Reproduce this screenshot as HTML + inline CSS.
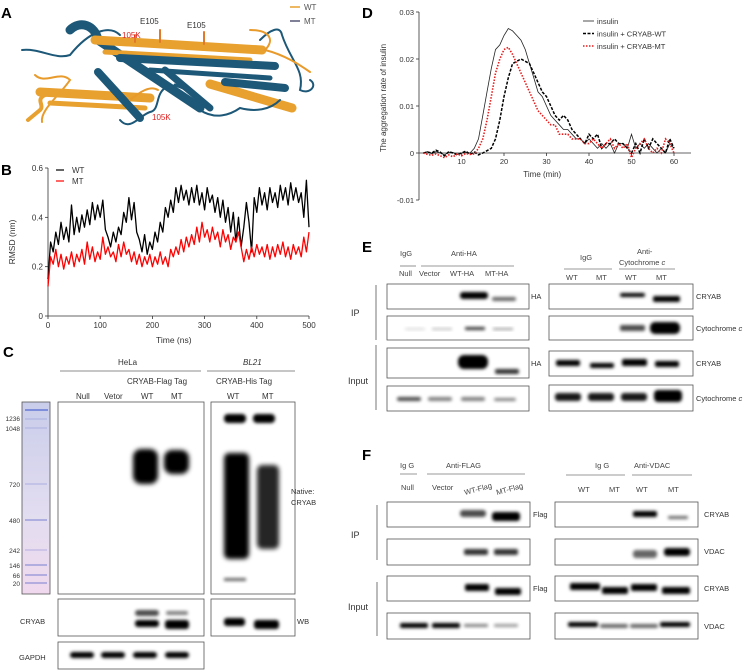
<!DOCTYPE html>
<html><head><meta charset="utf-8"><style>
html,body{margin:0;padding:0;background:#fff;}
svg{display:block;font-family:"Liberation Sans",sans-serif;}
</style></head><body>
<svg id="fig" width="753" height="672" viewBox="0 0 753 672" xmlns="http://www.w3.org/2000/svg">
<defs>
<filter id="bl" x="-30%" y="-100%" width="160%" height="300%"><feGaussianBlur stdDeviation="1.6"/></filter>
<filter id="bl2" x="-30%" y="-30%" width="160%" height="160%"><feGaussianBlur stdDeviation="2.5"/></filter>
<linearGradient id="lad" x1="0" y1="0" x2="0" y2="1"><stop offset="0" stop-color="#c9cdea"/><stop offset="0.6" stop-color="#e3ddf0"/><stop offset="1" stop-color="#f0d9ee"/></linearGradient>
</defs>

<!-- Panel labels -->
<g font-weight="bold" font-size="15">
<text x="1" y="18">A</text>
<text x="1" y="175">B</text>
<text x="3" y="357">C</text>
<text x="362" y="18">D</text>
<text x="362" y="252">E</text>
<text x="362" y="460">F</text>
</g>

<!-- Panel A structure -->
<g stroke-linecap="round" fill="none">
<path d="M22,50 C40,48 55,60 70,55 C90,30 110,25 120,35" stroke="#1d5878" stroke-width="2"/>
<path d="M35,75 C45,85 60,70 70,80 C60,95 40,110 42,122" stroke="#e89a2a" stroke-width="2"/>
<path d="M70,30 C80,20 95,25 98,40 L200,108" stroke="#1d5878" stroke-width="9"/>
<path d="M95,40 L262,50" stroke="#e8a02e" stroke-width="9"/>
<path d="M105,52 L250,60" stroke="#e8a02e" stroke-width="5"/>
<path d="M120,58 L275,66" stroke="#1d5878" stroke-width="8"/>
<path d="M150,70 L270,78" stroke="#1d5878" stroke-width="5"/>
<path d="M40,92 L150,98" stroke="#e8a02e" stroke-width="9"/>
<path d="M50,103 L145,108" stroke="#e8a02e" stroke-width="5"/>
<path d="M98,72 L140,118" stroke="#1d5878" stroke-width="8"/>
<path d="M175,85 C190,90 200,95 200,110" stroke="#1d5878" stroke-width="3"/>
<path d="M210,84 L292,108" stroke="#e8a02e" stroke-width="9"/>
<path d="M225,82 L285,88" stroke="#1d5878" stroke-width="8"/>
<path d="M165,70 L210,108" stroke="#1d5878" stroke-width="7"/>
<path d="M260,40 C270,30 280,25 282,35 C290,60 305,70 300,90 C310,95 318,85 310,80" stroke="#1d5878" stroke-width="2"/>
<path d="M250,30 C270,30 275,40 265,50 C285,55 300,65 310,72" stroke="#e89a2a" stroke-width="2"/>
<path d="M200,110 C215,120 230,115 240,108 C255,112 270,110 280,100" stroke="#1d5878" stroke-width="2"/>
<path d="M120,120 C130,132 140,115 150,112 C160,110 155,95 165,88" stroke="#1d5878" stroke-width="2"/>
<path d="M130,100 C140,92 150,85 158,90" stroke="#e89a2a" stroke-width="2"/>
<path d="M28,120 L40,110 C45,105 35,100 45,95" stroke="#e8a02e" stroke-width="4"/>
<path d="M160,30 L160,42 M204,32 L204,44 M135,35 L135,42" stroke="#e07a2a" stroke-width="2"/>
</g>
<g font-size="8">
<text x="140" y="24" fill="#333">E105</text>
<text x="187" y="28" fill="#333">E105</text>
<text x="122" y="38" fill="#e02020">105K</text>
<text x="152" y="120" fill="#e02020">105K</text>
</g>
<g font-size="8">
<line x1="290" y1="7" x2="300" y2="7" stroke="#e8a02e" stroke-width="1.5"/><text x="304" y="10" fill="#555">WT</text>
<line x1="290" y1="21" x2="300" y2="21" stroke="#557" stroke-width="1.5"/><text x="304" y="24" fill="#555">MT</text>
</g>

<!-- Panel B chart -->
<g id="chartB"></g>
<!-- Panel D chart -->
<g id="chartD"></g>

<!-- Panel C -->
<g font-size="8" fill="#333">
<text x="156" y="343" font-size="8.5">Time (ns)</text>
<text x="118" y="365">HeLa</text>
<text x="243" y="365" font-style="italic">BL21</text>
<line x1="60" y1="371" x2="201" y2="371" stroke="#666" stroke-width="0.8"/>
<line x1="207" y1="371" x2="295" y2="371" stroke="#666" stroke-width="0.8"/>
<text x="127" y="384">CRYAB-Flag Tag</text>
<text x="216" y="384">CRYAB-His Tag</text>
<text x="76" y="399">Null</text>
<text x="104" y="399">Vetor</text>
<text x="141" y="399">WT</text>
<text x="171" y="399">MT</text>
<text x="227" y="399">WT</text>
<text x="262" y="399">MT</text>
</g>
<rect x="22" y="402" width="28" height="192" fill="url(#lad)" stroke="#555" stroke-width="0.8"/>
<g stroke="#7a80d0" stroke-width="1.3" opacity="0.8">
<line x1="25" y1="410" x2="48" y2="410" stroke="#6d7fd8" stroke-width="2"/>
<line x1="25" y1="419" x2="47" y2="419" opacity="0.4"/><line x1="25" y1="428" x2="47" y2="428" opacity="0.4"/>
<line x1="25" y1="484" x2="47" y2="484" opacity="0.5"/><line x1="25" y1="520" x2="47" y2="520"/>
<line x1="25" y1="550" x2="47" y2="550" opacity="0.5"/><line x1="25" y1="565" x2="47" y2="565"/>
<line x1="25" y1="575" x2="47" y2="575"/><line x1="25" y1="583" x2="47" y2="583"/>
</g>
<g font-size="6.5" fill="#333" text-anchor="end">
<text x="20" y="421">1236</text><text x="20" y="431">1048</text><text x="20" y="487">720</text><text x="20" y="523">480</text>
<text x="20" y="553">242</text><text x="20" y="568">146</text><text x="20" y="578">66</text><text x="20" y="586">20</text>
</g>
<g stroke="#555" stroke-width="0.8" fill="#fff">
<rect x="58" y="402" width="146" height="192"/>
<rect x="211" y="402" width="84" height="192"/>
<rect x="58" y="599" width="146" height="37"/>
<rect x="211" y="599" width="84" height="37"/>
<rect x="58" y="642" width="146" height="27"/>
</g>
<g fill="#000">
<rect x="133" y="449" width="25" height="35" rx="8" filter="url(#bl2)"/>
<rect x="164" y="450" width="25" height="24" rx="8" filter="url(#bl2)"/>
<rect x="224" y="414" width="22" height="9" rx="4" filter="url(#bl)"/>
<rect x="253" y="414" width="22" height="9" rx="4" filter="url(#bl)"/>
<rect x="224" y="453" width="25" height="106" rx="5" filter="url(#bl2)"/>
<rect x="257" y="465" width="22" height="84" rx="5" filter="url(#bl2)" opacity="0.85"/>
<rect x="224" y="578" width="22" height="3" filter="url(#bl)" opacity="0.6"/>
<rect x="135" y="620" width="24" height="7" rx="3" filter="url(#bl)"/>
<rect x="135" y="610" width="24" height="6" rx="3" filter="url(#bl)" opacity="0.7"/>
<rect x="165" y="620" width="24" height="9" rx="3" filter="url(#bl)"/>
<rect x="166" y="611" width="22" height="4" rx="2" filter="url(#bl)" opacity="0.5"/>
<rect x="224" y="618" width="21" height="8" rx="3" filter="url(#bl)"/>
<rect x="254" y="620" width="25" height="9" rx="3" filter="url(#bl)"/>
<rect x="70" y="652" width="24" height="6" rx="3" filter="url(#bl)"/>
<rect x="101" y="652" width="24" height="6" rx="3" filter="url(#bl)"/>
<rect x="133" y="652" width="24" height="6" rx="3" filter="url(#bl)"/>
<rect x="165" y="652" width="24" height="6" rx="3" filter="url(#bl)"/>
</g>
<g font-size="7.5" fill="#333">
<text x="291" y="494">Native:</text><text x="291" y="505">CRYAB</text>
<text x="20" y="624">CRYAB</text><text x="297" y="624">WB</text><text x="19" y="660">GAPDH</text>
</g>

<!-- Panel E -->
<g font-size="7.5" fill="#444">
<text x="400" y="256">IgG</text><text x="451" y="256">Anti-HA</text>
<line x1="400" y1="266" x2="416" y2="266" stroke="#777" stroke-width="0.8"/>
<line x1="421" y1="266" x2="514" y2="266" stroke="#777" stroke-width="0.8"/>
<text x="399" y="276">Null</text><text x="419" y="276">Vector</text><text x="450" y="276">WT-HA</text><text x="485" y="276">MT-HA</text>
<text x="580" y="260">IgG</text><text x="637" y="254">Anti-</text><text x="619" y="265">Cytochrome <tspan font-style="italic">c</tspan></text>
<line x1="564" y1="269" x2="612" y2="269" stroke="#777" stroke-width="0.8"/>
<line x1="619" y1="269" x2="675" y2="269" stroke="#777" stroke-width="0.8"/>
<text x="566" y="280">WT</text><text x="596" y="280">MT</text><text x="625" y="280">WT</text><text x="656" y="280">MT</text>
</g>
<g stroke="#555" stroke-width="0.8" fill="#fff">
<rect x="387" y="284" width="142" height="25"/><rect x="387" y="316" width="142" height="24"/>
<rect x="387" y="348" width="142" height="30"/><rect x="387" y="386" width="142" height="25"/>
<rect x="549" y="284" width="144" height="25"/><rect x="549" y="316" width="144" height="24"/>
<rect x="549" y="351" width="144" height="25"/><rect x="549" y="385" width="144" height="26"/>
</g>
<g fill="#000">
<rect x="460" y="292" width="28" height="7" rx="3" filter="url(#bl)"/>
<rect x="492" y="297" width="24" height="4" rx="2" filter="url(#bl)" opacity="0.6"/>
<rect x="465" y="327" width="20" height="3" rx="1" filter="url(#bl)" opacity="0.8"/>
<rect x="493" y="328" width="20" height="2" filter="url(#bl)" opacity="0.4"/>
<rect x="405" y="328" width="20" height="2" filter="url(#bl)" opacity="0.15"/>
<rect x="432" y="328" width="20" height="2" filter="url(#bl)" opacity="0.25"/>
<rect x="458" y="355" width="30" height="14" rx="6" filter="url(#bl)"/>
<rect x="495" y="369" width="24" height="5" rx="2" filter="url(#bl)" opacity="0.8"/>
<rect x="397" y="397" width="24" height="4" rx="2" filter="url(#bl)" opacity="0.7"/>
<rect x="428" y="397" width="24" height="4" rx="2" filter="url(#bl)" opacity="0.5"/>
<rect x="461" y="397" width="24" height="4" rx="2" filter="url(#bl)" opacity="0.5"/>
<rect x="494" y="398" width="22" height="3" rx="2" filter="url(#bl)" opacity="0.5"/>
<rect x="620" y="293" width="25" height="4" rx="2" filter="url(#bl)"/>
<rect x="653" y="296" width="27" height="6" rx="2" filter="url(#bl)"/>
<rect x="620" y="325" width="25" height="6" rx="2" filter="url(#bl)" opacity="0.7"/>
<rect x="650" y="322" width="30" height="12" rx="5" filter="url(#bl)"/>
<rect x="556" y="360" width="24" height="6" rx="2" filter="url(#bl)"/>
<rect x="590" y="363" width="24" height="5" rx="2" filter="url(#bl)"/>
<rect x="622" y="359" width="25" height="7" rx="2" filter="url(#bl)"/>
<rect x="655" y="361" width="24" height="6" rx="2" filter="url(#bl)"/>
<rect x="555" y="393" width="26" height="8" rx="3" filter="url(#bl)" opacity="0.9"/>
<rect x="588" y="393" width="26" height="8" rx="3" filter="url(#bl)" opacity="0.9"/>
<rect x="621" y="393" width="26" height="8" rx="3" filter="url(#bl)" opacity="0.9"/>
<rect x="654" y="390" width="28" height="12" rx="4" filter="url(#bl)"/>
</g>
<g font-size="7.5" fill="#333">
<text x="531" y="299">HA</text><text x="531" y="366">HA</text>
<text x="696" y="299">CRYAB</text><text x="696" y="331">Cytochrome <tspan font-style="italic">c</tspan></text>
<text x="696" y="366">CRYAB</text><text x="696" y="401">Cytochrome <tspan font-style="italic">c</tspan></text>
<text x="351" y="316" font-size="9">IP</text><text x="348" y="384" font-size="9">Input</text>
<line x1="376" y1="285" x2="376" y2="340" stroke="#555" stroke-width="0.8"/>
<line x1="376" y1="345" x2="376" y2="410" stroke="#555" stroke-width="0.8"/>
</g>

<!-- Panel F -->
<g font-size="7.5" fill="#444">
<text x="400" y="468">Ig G</text><text x="446" y="468">Anti-FLAG</text>
<line x1="400" y1="474" x2="417" y2="474" stroke="#777" stroke-width="0.8"/>
<line x1="427" y1="474" x2="525" y2="474" stroke="#777" stroke-width="0.8"/>
<text x="401" y="490">Null</text><text x="432" y="490">Vector</text>
<text x="465" y="495" transform="rotate(-15 465 495)">WT-Flag</text>
<text x="497" y="495" transform="rotate(-15 497 495)">MT-Flag</text>
<text x="595" y="468">Ig G</text><text x="634" y="468">Anti-VDAC</text>
<line x1="566" y1="475" x2="625" y2="475" stroke="#777" stroke-width="0.8"/>
<line x1="632" y1="475" x2="692" y2="475" stroke="#777" stroke-width="0.8"/>
<text x="578" y="492">WT</text><text x="609" y="492">MT</text><text x="636" y="492">WT</text><text x="668" y="492">MT</text>
</g>
<g stroke="#555" stroke-width="0.8" fill="#fff">
<rect x="387" y="502" width="143" height="25"/><rect x="387" y="539" width="143" height="26"/>
<rect x="387" y="576" width="143" height="25"/><rect x="387" y="613" width="143" height="26"/>
<rect x="555" y="502" width="143" height="25"/><rect x="555" y="539" width="143" height="26"/>
<rect x="555" y="576" width="143" height="25"/><rect x="555" y="613" width="143" height="26"/>
</g>
<g fill="#000">
<rect x="460" y="510" width="26" height="7" rx="3" filter="url(#bl)" opacity="0.7"/>
<rect x="492" y="512" width="28" height="9" rx="3" filter="url(#bl)"/>
<rect x="464" y="549" width="24" height="6" rx="2" filter="url(#bl)" opacity="0.8"/>
<rect x="494" y="549" width="24" height="6" rx="2" filter="url(#bl)" opacity="0.8"/>
<rect x="465" y="584" width="24" height="7" rx="2" filter="url(#bl)"/>
<rect x="495" y="588" width="26" height="7" rx="2" filter="url(#bl)"/>
<rect x="400" y="623" width="28" height="5" rx="2" filter="url(#bl)"/>
<rect x="432" y="623" width="28" height="5" rx="2" filter="url(#bl)"/>
<rect x="464" y="624" width="24" height="3" rx="1" filter="url(#bl)" opacity="0.5"/>
<rect x="494" y="624" width="24" height="3" rx="1" filter="url(#bl)" opacity="0.4"/>
<rect x="633" y="511" width="24" height="6" rx="2" filter="url(#bl)"/>
<rect x="668" y="516" width="20" height="3" rx="1" filter="url(#bl)" opacity="0.6"/>
<rect x="633" y="550" width="24" height="8" rx="3" filter="url(#bl)" opacity="0.6"/>
<rect x="664" y="548" width="26" height="8" rx="3" filter="url(#bl)"/>
<rect x="570" y="583" width="30" height="7" rx="2" filter="url(#bl)"/>
<rect x="602" y="587" width="26" height="7" rx="2" filter="url(#bl)"/>
<rect x="631" y="584" width="26" height="7" rx="2" filter="url(#bl)"/>
<rect x="662" y="587" width="28" height="7" rx="2" filter="url(#bl)"/>
<rect x="568" y="622" width="30" height="5" rx="2" filter="url(#bl)"/>
<rect x="600" y="624" width="28" height="4" rx="2" filter="url(#bl)" opacity="0.6"/>
<rect x="630" y="624" width="28" height="4" rx="2" filter="url(#bl)" opacity="0.6"/>
<rect x="660" y="622" width="30" height="5" rx="2" filter="url(#bl)"/>
</g>
<g font-size="7.5" fill="#333">
<text x="533" y="517">Flag</text><text x="533" y="591">Flag</text>
<text x="704" y="517">CRYAB</text><text x="704" y="554">VDAC</text>
<text x="704" y="591">CRYAB</text><text x="704" y="629">VDAC</text>
<text x="351" y="538" font-size="9">IP</text><text x="348" y="610" font-size="9">Input</text>
<line x1="377" y1="505" x2="377" y2="560" stroke="#555" stroke-width="0.8"/>
<line x1="377" y1="582" x2="377" y2="636" stroke="#555" stroke-width="0.8"/>
</g>
</svg>
<script>
const rmsdWT=[0.15,0.30,0.26,0.34,0.29,0.38,0.31,0.36,0.30,0.45,0.33,0.40,0.34,0.41,0.36,0.43,0.37,0.46,0.39,0.45,0.40,0.47,0.35,0.32,0.28,0.34,0.30,0.36,0.33,0.42,0.38,0.48,0.39,0.46,0.34,0.31,0.26,0.33,0.25,0.30,0.27,0.34,0.30,0.38,0.34,0.44,0.40,0.47,0.42,0.52,0.46,0.53,0.47,0.51,0.45,0.52,0.46,0.53,0.45,0.50,0.43,0.52,0.46,0.49,0.42,0.48,0.40,0.47,0.38,0.44,0.34,0.42,0.30,0.40,0.28,0.36,0.46,0.38,0.26,0.48,0.42,0.52,0.45,0.50,0.43,0.52,0.46,0.50,0.44,0.53,0.47,0.52,0.45,0.54,0.47,0.52,0.46,0.50,0.40,0.55,0.36];
const rmsdMT=[0.12,0.24,0.21,0.27,0.20,0.25,0.19,0.24,0.21,0.26,0.20,0.25,0.22,0.27,0.21,0.30,0.23,0.28,0.22,0.26,0.23,0.32,0.25,0.28,0.24,0.26,0.22,0.29,0.24,0.30,0.25,0.27,0.22,0.26,0.21,0.25,0.20,0.24,0.21,0.25,0.20,0.24,0.21,0.26,0.21,0.24,0.20,0.27,0.24,0.28,0.25,0.31,0.26,0.32,0.28,0.33,0.29,0.36,0.30,0.38,0.32,0.35,0.30,0.36,0.31,0.34,0.28,0.35,0.30,0.33,0.27,0.32,0.30,0.34,0.28,0.22,0.27,0.23,0.28,0.24,0.29,0.25,0.28,0.24,0.29,0.23,0.28,0.24,0.29,0.25,0.30,0.24,0.28,0.23,0.29,0.25,0.28,0.24,0.32,0.26,0.34];
const bXTicks=[0,100,200,300,400,500];
const bYTicks=[0,0.2,0.4,0.6];
const bYLabels=["0","0.2","0.4","0.6"];

const dInsulin=[0,0.0003,-0.0002,0.0003,0,-0.0004,0.0002,0.0001,-0.0003,0,0.0002,0,0.001,0.003,0.008,0.013,0.018,0.022,0.023,0.025,0.0265,0.026,0.025,0.024,0.022,0.019,0.016,0.013,0.012,0.010,0.008,0.007,0.006,0.005,0.005,0.004,0.003,0.003,0.002,0.003,0.002,0.001,0.002,0.001,0.002,0,0.002,0.002,0.001,0.004,0.001,0.002,0.001,0.002,0.001,0,0.001,0,0.002,0.001];
const dCryabWT=[0,0.0002,0,0.0006,0.0002,-0.0006,0.0003,0,-0.0004,0,0.0004,-0.0003,0.0002,-0.0004,0,0.0005,0.001,0.003,0.007,0.012,0.016,0.019,0.0195,0.020,0.0195,0.019,0.017,0.015,0.013,0.012,0.010,0.008,0.007,0.008,0.007,0.005,0.004,0.003,0.002,0.004,0.003,0.004,0.001,0.002,0.002,0.003,0.002,0.002,0.001,0,0.002,0,0.003,0.001,0.003,0.002,0.001,0,0.003,0.001];
const dCryabMT=[0,-0.0003,-0.0005,-0.0002,-0.0006,-0.001,-0.0004,-0.0008,-0.0002,-0.0006,-0.0001,-0.0003,-0.0002,0.001,0.003,0.007,0.012,0.017,0.020,0.022,0.0225,0.021,0.019,0.017,0.015,0.013,0.011,0.009,0.008,0.007,0.006,0.006,0.004,0.004,0.004,0.003,0.003,0.003,0.002,0.002,0.003,0.002,0.001,0.002,0.003,0.001,0.002,0.001,0.002,-0.001,0.001,0.002,0.003,0.001,0,0.001,0,0.003,0.002,0];
const dXTicks=[10,20,30,40,50,60];
const dYTicks=[-0.01,0,0.01,0.02,0.03];
const dYLabels=["-0.01","0","0.01","0.02","0.03"];

const NS="http://www.w3.org/2000/svg";
function mk(tag,attrs,parent){const e=document.createElementNS(NS,tag);for(const k in attrs)e.setAttribute(k,attrs[k]);parent.appendChild(e);return e;}

// Panel B
(function(){
const g=document.getElementById('chartB');
const x0=48,x1=309,y0=316,y1=168;
const xs=v=>x0+(v/500)*(x1-x0);
const ys=v=>y0-(v/0.6)*(y0-y1);
mk('line',{x1:x0,y1:y0,x2:x1,y2:y0,stroke:'#333','stroke-width':0.8},g);
mk('line',{x1:x0,y1:y0,x2:x0,y2:y1,stroke:'#333','stroke-width':0.8},g);
bXTicks.forEach(t=>{mk('line',{x1:xs(t),y1:y0,x2:xs(t),y2:y0+3,stroke:'#333','stroke-width':0.8},g);
const tx=mk('text',{x:xs(t),y:y0+12,'font-size':8,'text-anchor':'middle',fill:'#333'},g);tx.textContent=t;

});
bYTicks.forEach((t,i)=>{mk('line',{x1:x0-3,y1:ys(t),x2:x0,y2:ys(t),stroke:'#333','stroke-width':0.8},g);
const tx=mk('text',{x:x0-5,y:ys(t)+3,'font-size':8,'text-anchor':'end',fill:'#333'},g);tx.textContent=bYLabels[i];

});
const yt=mk('text',{x:15,y:242,'font-size':8.5,'text-anchor':'middle',fill:'#333',transform:'rotate(-90 15 242)'},g);yt.textContent='RMSD (nm)';


function line(arr,col,name){const n=arr.length;const p=arr.map((v,i)=>xs(i*500/(n-1)).toFixed(1)+','+ys(v).toFixed(1)).join(' ');
const l=mk('polyline',{points:p,fill:'none',stroke:col,'stroke-width':1.3,'stroke-linejoin':'round'},g);

}
line(rmsdWT,'#000','series-wt');
line(rmsdMT,'#f00','series-mt');
mk('line',{x1:56,y1:170,x2:64,y2:170,stroke:'#000','stroke-width':1.2},g);
const a=mk('text',{x:72,y:173,'font-size':8,fill:'#333'},g);a.textContent='WT';


mk('line',{x1:56,y1:181,x2:64,y2:181,stroke:'#f00','stroke-width':1.2},g);
const b=mk('text',{x:72,y:184,'font-size':8,fill:'#333'},g);b.textContent='MT';


})();

// Panel D
(function(){
const g=document.getElementById('chartD');
const ox=419,yz=153;
const xs=t=>ox+t*4.25;
const ys=v=>yz-v*4700;
mk('line',{x1:ox,y1:ys(0.03),x2:ox,y2:ys(-0.01),stroke:'#333','stroke-width':0.8},g);
mk('line',{x1:ox,y1:yz,x2:xs(64),y2:yz,stroke:'#333','stroke-width':0.8},g);
dXTicks.forEach(t=>{mk('line',{x1:xs(t),y1:yz,x2:xs(t),y2:yz+3,stroke:'#333','stroke-width':0.8},g);
const tx=mk('text',{x:xs(t),y:yz+11,'font-size':7.5,'text-anchor':'middle',fill:'#333'},g);tx.textContent=t;

});
dYTicks.forEach((t,i)=>{mk('line',{x1:ox-3,y1:ys(t),x2:ox,y2:ys(t),stroke:'#333','stroke-width':0.8},g);
const tx=mk('text',{x:ox-5,y:ys(t)+3,'font-size':7.5,'text-anchor':'end',fill:'#333'},g);tx.textContent=dYLabels[i];

});
const xt=mk('text',{x:xs(29),y:yz+24,'font-size':8,'text-anchor':'middle',fill:'#333'},g);xt.textContent='Time (min)';


const yt=mk('text',{x:386,y:98,'font-size':8,'text-anchor':'middle',fill:'#333',transform:'rotate(-90 386 98)'},g);yt.textContent='The aggregation rate of insulin';


function line(arr,col,w,dash,name){const p=arr.map((v,i)=>xs(i+1).toFixed(1)+','+ys(v).toFixed(1)).join(' ');
const at={points:p,fill:'none',stroke:col,'stroke-width':w};if(dash)at['stroke-dasharray']=dash;
const l=mk('polyline',at,g);

}
line(dInsulin,'#222',0.8,null,'series-insulin');
line(dCryabWT,'#000',1.5,'3,1.5','series-cryab-wt');
line(dCryabMT,'#e81c1c',1.6,'1.5,1.5','series-cryab-mt');
const items=[['insulin','#222',null,0.8],['insulin + CRYAB-WT','#000','3,1.5',1.5],['insulin + CRYAB-MT','#e81c1c','1.5,1.5',1.6]];
items.forEach((it,i)=>{const y=21+i*12.5;const at={x1:583,y1:y,x2:594,y2:y,stroke:it[1],'stroke-width':it[3]};if(it[2])at['stroke-dasharray']=it[2];mk('line',at,g);
const t=mk('text',{x:597,y:y+3,'font-size':7.5,fill:'#333'},g);t.textContent=it[0];

});
})();
</script>
</body></html>
